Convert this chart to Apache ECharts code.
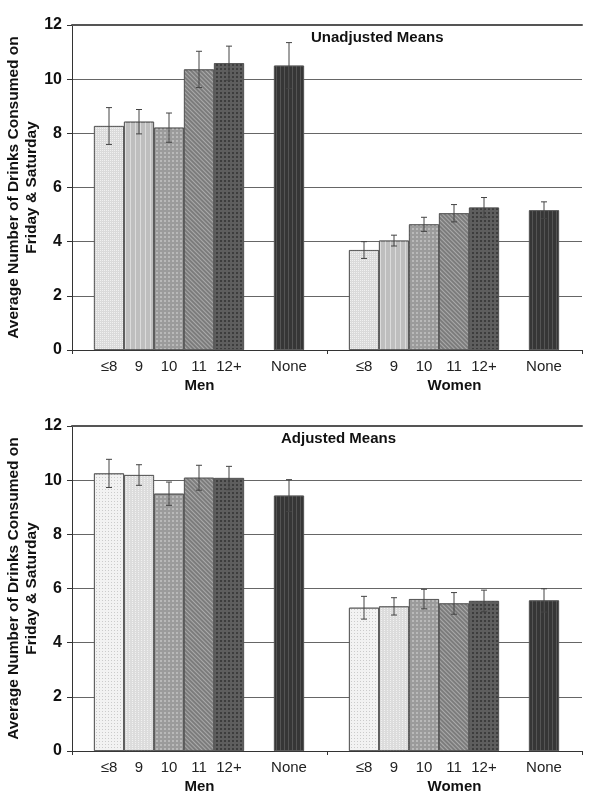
<!DOCTYPE html>
<html>
<head>
<meta charset="utf-8">
<script src="https://cdn.jsdelivr.net/npm/echarts@6/dist/echarts.min.js"></script>
<style>
html,body{margin:0;padding:0;background:#fff;}
#c{width:600px;height:808px;}
</style>
</head>
<body>
<div id="c"></div>
<script>
// ---- data ----
const groups = ["Men", "Women"];
const subCats = ["≤8", "9", "10", "11", "12+", "None"];
const yTicks = [0, 2, 4, 6, 8, 10, 12];
const titles = ["Unadjusted Means", "Adjusted Means"];
const yTitle = "Average Number of Drinks Consumed on\nFriday & Saturday";

const unadjMen = [8.27, 8.43, 8.21, 10.36, 10.59, 10.50];
const unadjMenErr = [0.68, 0.45, 0.54, 0.67, 0.63, 0.85];
const unadjWomen = [3.69, 4.04, 4.64, 5.05, 5.26, 5.16];
const unadjWomenErr = [0.31, 0.20, 0.26, 0.32, 0.37, 0.31];

const adjMen = [10.25, 10.19, 9.50, 10.09, 10.08, 9.43];
const adjMenErr = [0.52, 0.38, 0.43, 0.46, 0.43, 0.59];
const adjWomen = [5.29, 5.34, 5.61, 5.45, 5.54, 5.56];
const adjWomenErr = [0.42, 0.32, 0.36, 0.40, 0.40, 0.43];

// ---- styles ----
const FONT = "Liberation Sans, Arial, sans-serif";
const slotCats = subCats.slice(0, 5).concat([""], subCats.slice(5)); // blank slot before "None"

function patterns(adjusted) {
  return [
    adjusted
      ? {color: '#f2f2f2', decal: {symbol: 'rect', symbolSize: 1, color: 'rgba(0,0,0,0.16)', dashArrayX: [1, 2], dashArrayY: [1, 2]}}
      : {color: '#dadada', decal: {symbol: 'rect', symbolSize: 1, color: 'rgba(255,255,255,0.6)', dashArrayX: [1, 1], dashArrayY: [1, 1]}},
    adjusted
      ? {color: '#dcdcdc', decal: {symbol: 'rect', symbolSize: 1, color: 'rgba(255,255,255,0.6)', dashArrayX: [1, 2], dashArrayY: [1, 1]}}
      : {color: '#bebebe', decal: {symbol: 'rect', symbolSize: 1, color: 'rgba(255,255,255,0.45)', dashArrayX: [1, 4], dashArrayY: [1, 0]}},
    {color: '#9b9b9b', decal: {symbol: 'rect', symbolSize: 1, color: 'rgba(255,255,255,0.3)', dashArrayX: [2, 2], dashArrayY: [2, 2]}},
    {color: '#7c7c7c', decal: {symbol: 'rect', symbolSize: 1, color: 'rgba(255,255,255,0.35)', dashArrayX: [1, 0], dashArrayY: [1, 2], rotation: Math.PI / 4}},
    {color: '#5e5e5e', decal: {symbol: 'rect', symbolSize: 1, color: 'rgba(0,0,0,0.35)', dashArrayX: [2, 2], dashArrayY: [2, 2]}},
    {color: '#363636', decal: {symbol: 'rect', symbolSize: 1, color: 'rgba(255,255,255,0.15)', dashArrayX: [1, 3], dashArrayY: [1, 0]}}
  ];
}

function barData(vals, adjusted) {
  const pats = patterns(adjusted);
  const out = [];
  vals.forEach((v, i) => {
    if (i === 5) out.push(null);
    out.push({value: v, itemStyle: {color: pats[i].color, decal: pats[i].decal, borderColor: '#555', borderWidth: 0.8}});
  });
  return out;
}
function errData(vals, errs) {
  const out = [];
  vals.forEach((v, i) => {
    const idx = i < 5 ? i : i + 1;
    out.push([idx, v - errs[i], v + errs[i]]);
  });
  return out;
}
function renderErr(params, api) {
  const lo = api.coord([api.value(0), api.value(1)]);
  const hi = api.coord([api.value(0), api.value(2)]);
  const w = 3;
  const st = {stroke: '#444', lineWidth: 1};
  return {type: 'group', children: [
    {type: 'line', shape: {x1: hi[0], y1: hi[1], x2: lo[0], y2: lo[1]}, style: st},
    {type: 'line', shape: {x1: hi[0] - w, y1: hi[1], x2: hi[0] + w, y2: hi[1]}, style: st},
    {type: 'line', shape: {x1: lo[0] - w, y1: lo[1], x2: lo[0] + w, y2: lo[1]}, style: st}
  ]};
}

const panels = [
  {top: 25, men: unadjMen, menErr: unadjMenErr, women: unadjWomen, womenErr: unadjWomenErr, adjusted: false, title: titles[0], tLeft: 306},
  {top: 426, men: adjMen, menErr: adjMenErr, women: adjWomen, womenErr: adjWomenErr, adjusted: true, title: titles[1], tLeft: 276}
];

const grid = [], xAxis = [], yAxis = [], series = [], title = [];
const H = 325;
panels.forEach((p, k) => {
  const base = k * 3;
  const gbase = {top: p.top, height: H, outerBoundsMode: 'none', containLabel: false};
  grid.push(Object.assign({left: 72, width: 510}, gbase));
  grid.push(Object.assign({left: 94, width: 210}, gbase));
  grid.push(Object.assign({left: 349, width: 210}, gbase));
  // frame axes
  xAxis.push({gridIndex: base, type: 'category', data: groups, boundaryGap: true,
    axisLine: {lineStyle: {color: '#333', width: 1}},
    axisTick: {show: true, length: 4, lineStyle: {color: '#333'}},
    axisLabel: {margin: 28, fontFamily: FONT, fontSize: 15, fontWeight: 'bold', color: '#111'}});
  yAxis.push({gridIndex: base, type: 'value', min: yTicks[0], max: yTicks[yTicks.length - 1], interval: yTicks[1] - yTicks[0],
    name: yTitle, nameLocation: 'middle', nameRotate: 90, nameGap: 31, nameMoveOverlap: false,
    nameTextStyle: {fontFamily: FONT, fontSize: 15.5, fontWeight: 'bold', color: '#111', lineHeight: 18},
    axisLine: {show: true, lineStyle: {color: '#333'}},
    axisTick: {show: true, length: 5, lineStyle: {color: '#333'}},
    splitLine: {lineStyle: {color: '#666', width: 1}},
    axisLabel: {margin: 10, fontFamily: FONT, fontSize: 16, fontWeight: 'bold', color: '#111'}});
  // bar axes
  [1, 2].forEach(j => {
    xAxis.push({gridIndex: base + j, type: 'category', data: slotCats,
      axisLine: {show: false}, axisTick: {show: false},
      axisLabel: {margin: 9, fontFamily: FONT, fontSize: 15, color: '#222', interval: 0}});
    yAxis.push({gridIndex: base + j, type: 'value', min: 0, max: 12, show: false, splitLine: {show: false}});
  });
  [[p.men, p.menErr], [p.women, p.womenErr]].forEach((d, j) => {
    const ai = base + 1 + j;
    series.push({type: 'bar', xAxisIndex: ai, yAxisIndex: ai, barWidth: '100%', data: barData(d[0], p.adjusted), z: 2});
    series.push({type: 'custom', xAxisIndex: ai, yAxisIndex: ai, renderItem: renderErr, data: errData(d[0], d[1]), z: 5});
  });
  title.push({text: p.title, left: p.tLeft, top: p.top,
    textStyle: {fontFamily: FONT, fontSize: 15, fontWeight: 'bold', color: '#111'}});
});
// top frame lines (darker border at the 12 line)
panels.forEach((p, k) => {
  xAxis.push({gridIndex: k * 3, type: 'category', data: groups, position: 'top',
    axisLine: {show: true, lineStyle: {color: '#555', width: 2}},
    axisTick: {show: false}, axisLabel: {show: false}, splitLine: {show: false}});
});

const chart = echarts.init(document.getElementById('c'), null, {renderer: 'canvas'});
chart.setOption({animation: false, backgroundColor: '#fff', title, grid, xAxis, yAxis, series});
</script>
</body>
</html>
